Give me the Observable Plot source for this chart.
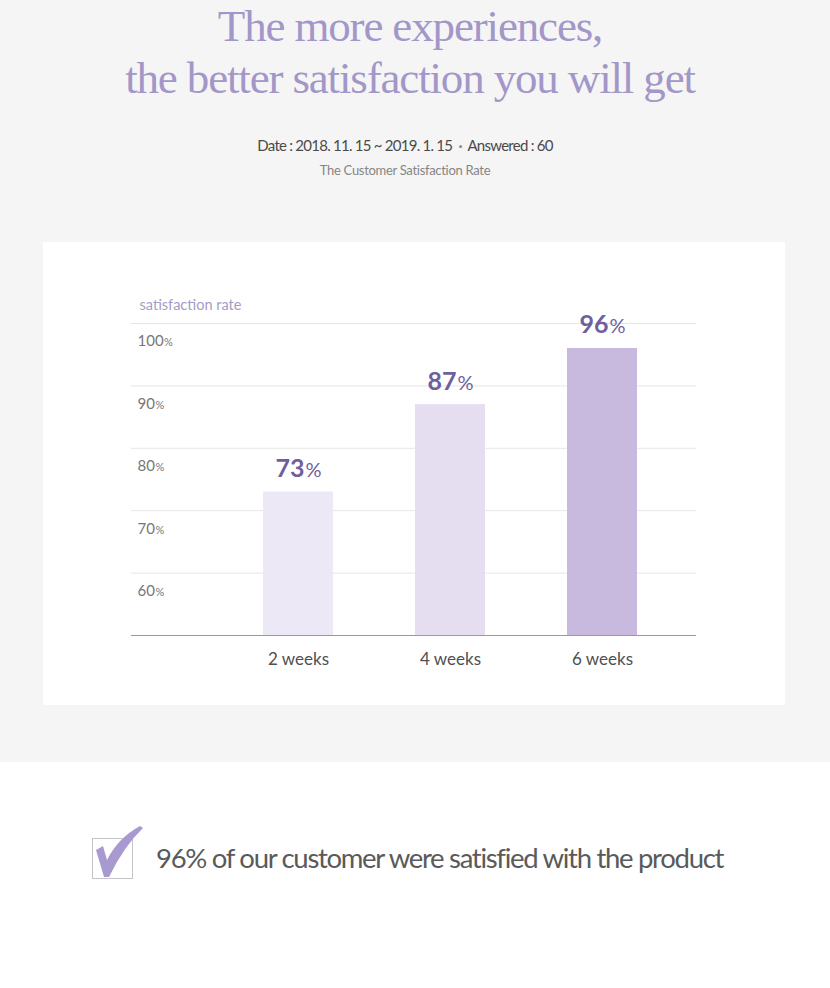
<!DOCTYPE html>
<html>
<head>
<meta charset="utf-8">
<script src="https://cdn.jsdelivr.net/npm/d3@7"></script>
<script src="https://cdn.jsdelivr.net/npm/@observablehq/plot@0.6"></script>
<style>
  html, body { margin: 0; padding: 0; background: #ffffff; }
  body { width: 830px; height: 988px; position: relative; overflow: hidden; font-family: Lato, "Noto Sans", sans-serif; }
  #top { position: absolute; left: 0; top: 0; width: 830px; height: 762px; background: #f5f5f5; }
  .title { position: absolute; left: -5px; width: 830px; text-align: center; font-family: "Liberation Serif", "DejaVu Serif", serif; font-size: 45px; line-height: 45px; color: #a297c8; letter-spacing: -1.15px; white-space: nowrap; }
  #sub1 { position: absolute; left: -10px; width: 830px; top: 136px; text-align: center; font-size: 15px; line-height: 18px; color: #4a4a4a; letter-spacing: -0.75px; white-space: nowrap; }
  #sub2 { position: absolute; left: -10px; width: 830px; top: 161px; text-align: center; font-size: 13px; line-height: 18px; color: #858585; letter-spacing: -0.3px; }
  #panel { position: absolute; left: 43px; top: 242px; width: 742px; height: 463px; background: #ffffff; }
  #check { position: absolute; left: 88px; top: 820px; }
  #note { position: absolute; left: 156px; top: 840px; font-size: 27.5px; line-height: 36px; color: #5a5a5a; letter-spacing: -1.3px; white-space: nowrap; }
</style>
</head>
<body>
<div id="top">
  <div class="title" style="top:4px">The more experiences,</div>
  <div class="title" style="top:56px">the better satisfaction you will get</div>
  <div id="sub1">Date : 2018. 11. 15 ~ 2019. 1. 15 &nbsp;<span style="color:#888;font-weight:bold">·</span>&nbsp; Answered : 60</div>
  <div id="sub2">The Customer Satisfaction Rate</div>
  <div id="panel"></div>
</div>
<svg id="check" width="60" height="64" viewBox="0 0 60 64">
  <rect x="4.5" y="18.5" width="40" height="40" fill="#ffffff" stroke="#c4c4c4" stroke-width="1"/>
  <path d="M8,30 L15,26 L19,40 Q30,18 52,6 L55,8 Q36,26 21,57 L16,57 Z" fill="#a899d0"/>
</svg>
<div id="note">96% of our customer were satisfied with the product</div>
<script>
const weeks = ["2 weeks", "4 weeks", "6 weeks"];
const rates = [73, 87, 96];
const barColors = ["#ede8f5", "#e4def0", "#c8bade"];
const yTicks = [60, 70, 80, 90, 100];
const yLabel = "satisfaction rate";

const data = weeks.map((w, i) => ({week: w, rate: rates[i]}));

const chart = Plot.plot({
  width: 742,
  height: 463,
  marginLeft: 88,
  marginRight: 89,
  marginTop: 81,
  marginBottom: 70,
  style: {fontFamily: "Lato, 'Noto Sans', sans-serif", background: "transparent", overflow: "visible"},
  x: {domain: weeks, range: [179, 635], paddingInner: 0.5395, paddingOuter: 0.2697, axis: null},
  y: {domain: [50, 100], axis: null},
  color: {domain: weeks, range: barColors},
  marks: [
    Plot.ruleY(yTicks, {stroke: "#e6e6e6", strokeWidth: 1}),
    Plot.barY(data, {x: "week", y1: 50, y2: "rate", fill: "week"}),
    Plot.ruleY([50], {stroke: "#9a9a9a", strokeWidth: 1}),
    Plot.text(yTicks, {y: d => d, text: d => `${d}%`, frameAnchor: "left", textAnchor: "start", dx: 6, dy: 18, fill: "#777", fontSize: 15}),
    Plot.text(data, {x: "week", y: "rate", text: d => `${d.rate}%`, dy: -15, lineAnchor: "bottom", fill: "#6e5f9e", fontSize: 25, fontWeight: "bold"}),
    Plot.text(data, {x: "week", text: "week", frameAnchor: "bottom", dy: 29, fill: "#505050", fontSize: 17}),
    Plot.text([yLabel], {frameAnchor: "top-left", textAnchor: "start", dx: 8, dy: -24, fill: "#a59cc6", fontSize: 14.5})
  ]
});

// smaller "%" sign, as in the original
d3.select(chart).selectAll("text").each(function() {
  const t = this.textContent;
  if (/^\d+%$/.test(t)) {
    const n = t.slice(0, -1);
    const sel = d3.select(this);
    const big = +sel.attr("font-size") > 20 || this.closest("g").getAttribute("font-size") > 20;
    sel.text(n);
    sel.append("tspan").attr("font-size", big ? 20 : 11).attr("font-weight", "normal").attr("dx", big ? 1 : 0.5).text("%");
  }
});

document.getElementById("panel").appendChild(chart);
</script>
</body>
</html>
